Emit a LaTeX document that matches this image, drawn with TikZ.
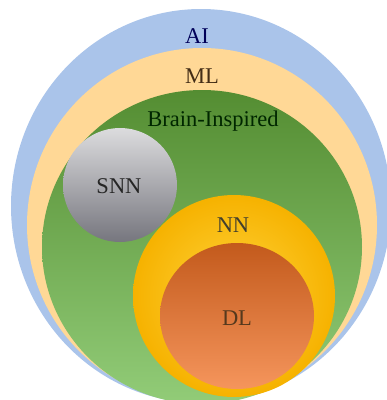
\documentclass[tikz,border=0pt]{standalone}
\usepackage{fontspec}
\setmainfont{Liberation Serif}
\usepackage{tikz}
\usepackage{xcolor}

\definecolor{aiblue}{HTML}{AAC4EA}
\definecolor{mlpeach}{HTML}{FFD896}
\definecolor{bidark}{HTML}{548D32}
\definecolor{bilight}{HTML}{92CC78}
\definecolor{snntop}{HTML}{DCDCDE}
\definecolor{snnbot}{HTML}{76767E}
\definecolor{nnin}{HTML}{FFD43C}
\definecolor{nnout}{HTML}{F6B200}
\definecolor{dltop}{HTML}{C35A1C}
\definecolor{dlbot}{HTML}{F5955C}

\tikzset{
    lbl/.style={font=\fontsize{22.5}{26}\selectfont, inner sep=0pt}
}

\begin{document}
\begin{tikzpicture}[x=1pt, y=-1pt]
    \useasboundingbox (0,0) rectangle (387,400);
    \clip (0,0) rectangle (387,400);
    % nested sets
    \fill[aiblue] (201,206) ellipse [x radius=190, y radius=197];
    \fill[mlpeach] (202,225) ellipse [x radius=175, y radius=177];
    \shade[top color=bidark, middle color=bidark!85!bilight, bottom color=bilight]
        (202,247) ellipse [x radius=160, y radius=157];
    \shade[top color=snntop, middle color=snntop!80!snnbot, bottom color=snnbot]
        (120,185) circle [radius=57];
    \shade[inner color=nnin, outer color=nnout] (234,296) ellipse [x radius=101, y radius=101];
    \shade[top color=dltop, bottom color=dlbot] (237,316) ellipse [x radius=77, y radius=73];
    % labels
    \node[lbl, text=blue!35!black] (ai) at (197,36) {AI};
    \node[lbl, text=brown!35!black] (ml) at (202,76) {ML};
    \node[lbl, text=green!15!black] (bi) at (213,121) {Brain-Inspired};
    \node[lbl, text=black!85] (snn) at (119,186) {SNN};
    \node[lbl, text=olive!30!black] (nn) at (233,225) {NN};
    \node[lbl, text=brown!45!black] (dl) at (237,318) {DL};
\end{tikzpicture}
\end{document}
